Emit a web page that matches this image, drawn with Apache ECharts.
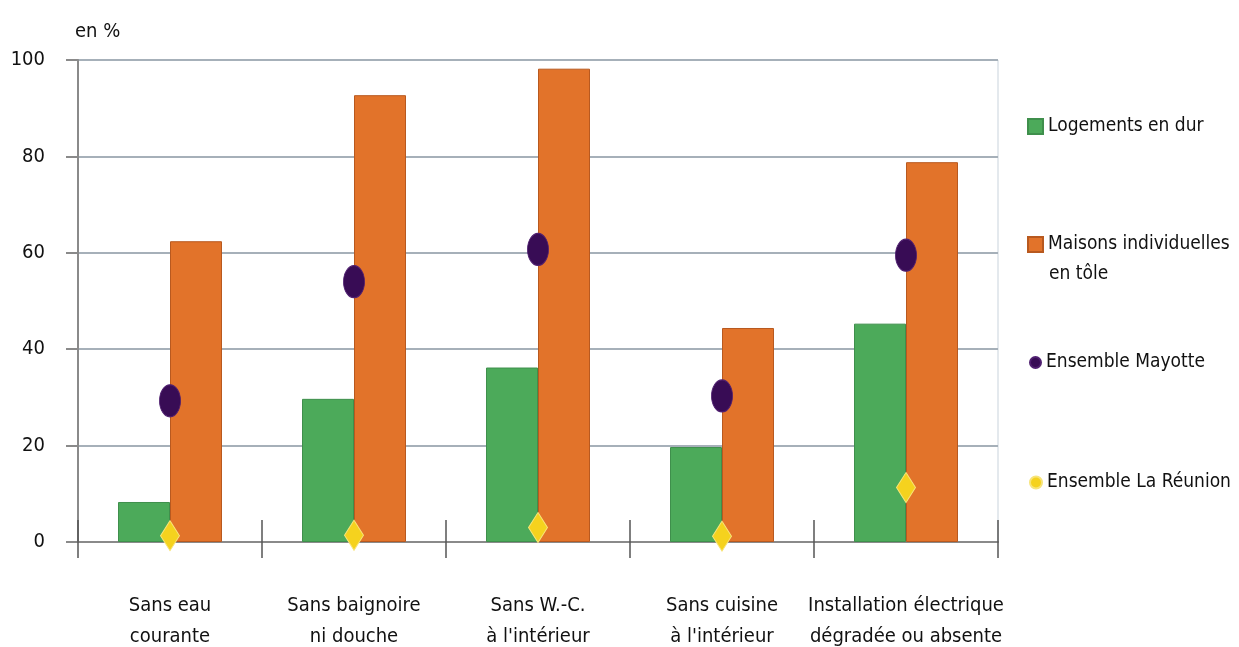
<!DOCTYPE html>
<html><head><meta charset="utf-8">
<script src="https://cdn.jsdelivr.net/npm/echarts@6/dist/echarts.min.js"></script>
<style>html,body{margin:0;padding:0;background:#fff}#c{width:1239px;height:647px}</style>
</head><body><div id="c"></div>
<script>
const categories = ["Sans eau\ncourante", "Sans baignoire\nni douche", "Sans W.-C.\nà l'intérieur", "Sans cuisine\nà l'intérieur", "Installation électrique\ndégradée ou absente"];
const logementsEnDur = [8.3, 29.7, 36.2, 19.7, 45.3];
const maisonsTole = [62.4, 92.7, 98.2, 44.4, 78.8];
const ensembleMayotte = [29.3, 54.0, 60.7, 30.3, 59.5];
const ensembleReunion = [1.3, 1.4, 3.0, 1.2, 11.3];
const yTicks = [0, 20, 40, 60, 80, 100];

const FONT = "'DejaVu Sans Condensed', 'Liberation Sans', sans-serif";
const GREEN = '#4caa5a', ORANGE = '#e2732a', PURPLE = '#380c55', YELLOW = '#f5d21e';

const chart = echarts.init(document.getElementById('c'));
const legendBase = {orient: 'vertical', left: 1027, itemWidth: 15, itemHeight: 15, padding: 0,
  textStyle: {fontFamily: FONT, fontSize: 19, color: '#111'}, selectedMode: false, itemGap: 0};
chart.setOption({
  animation: false,
  backgroundColor: '#fff',
  grid: {left: 78, right: 241, top: 60, bottom: 105, show: true, borderColor: '#c9d3dc', borderWidth: 1,
    outerBoundsMode: 'none', containLabel: false},
  title: {text: 'en %', left: 75, top: 22, padding: 0, textStyle: {fontFamily: FONT, fontSize: 20, fontWeight: 'normal', color: '#111'}},
  legend: [
    Object.assign({}, legendBase, {top: 117, data: [{name: 'Logements en dur', icon: 'rect'}]}),
    Object.assign({}, legendBase, {top: 235, data: [{name: 'Maisons individuelles en tôle', icon: 'rect'}],
      formatter: () => 'Maisons individuelles'}),
    Object.assign({}, legendBase, {top: 353, left: 1029, itemWidth: 11, itemHeight: 15, data: [{name: 'Ensemble Mayotte', icon: 'circle'}]}),
    Object.assign({}, legendBase, {top: 473, left: 1029, itemWidth: 12, itemHeight: 14, data: [{name: 'Ensemble La Réunion', icon: 'circle'}]})
  ],
  graphic: [{type: 'text', left: 1049, top: 265, style: {text: 'en tôle', font: "19px " + FONT, fill: '#111'}}],
  xAxis: [{
    type: 'category', data: categories,
    axisLine: {lineStyle: {color: '#8a8a8a', width: 2}},
    axisTick: {show: true, length: 16, lineStyle: {color: '#555', width: 1.5}},
    axisLabel: {fontFamily: FONT, fontSize: 20, color: '#111', margin: 48, lineHeight: 31, interval: 0}
  }, {
    type: 'category', data: categories, position: 'bottom',
    axisLine: {show: false}, axisLabel: {show: false},
    axisTick: {show: true, inside: true, length: 22, lineStyle: {color: '#555', width: 1.5}}
  }],
  yAxis: {
    type: 'value', min: 0, max: 100, interval: 20,
    axisLine: {show: true, lineStyle: {color: '#8a8a8a', width: 2}},
    axisTick: {show: true, length: 12, lineStyle: {color: '#8a8a8a', width: 2}},
    splitLine: {lineStyle: {color: '#a6b0b9', width: 2}},
    axisLabel: {fontFamily: FONT, fontSize: 20, color: '#111', margin: 33,
      formatter: v => yTicks.includes(v) ? String(v) : ''}
  },
  series: [
    {name: 'Logements en dur', type: 'bar', data: logementsEnDur, barWidth: 52, barGap: '0%',
      itemStyle: {color: GREEN, borderColor: '#3f8f4c', borderWidth: 1}},
    {name: 'Maisons individuelles en tôle', type: 'bar', data: maisonsTole, barWidth: 52, barGap: '0%',
      itemStyle: {color: ORANGE, borderColor: '#b8591f', borderWidth: 1}},
    {name: 'Ensemble Mayotte', type: 'scatter', data: ensembleMayotte, symbol: 'circle', symbolSize: [21, 32],
      itemStyle: {color: PURPLE, borderColor: '#4f1f70', borderWidth: 1, opacity: 1}, z: 5},
    {name: 'Ensemble La Réunion', type: 'scatter', data: ensembleReunion, symbol: 'diamond', symbolSize: [19, 30],
      itemStyle: {color: YELLOW, borderColor: '#f7e47a', borderWidth: 1, opacity: 1}, z: 6}
  ]
});
</script></body></html>
